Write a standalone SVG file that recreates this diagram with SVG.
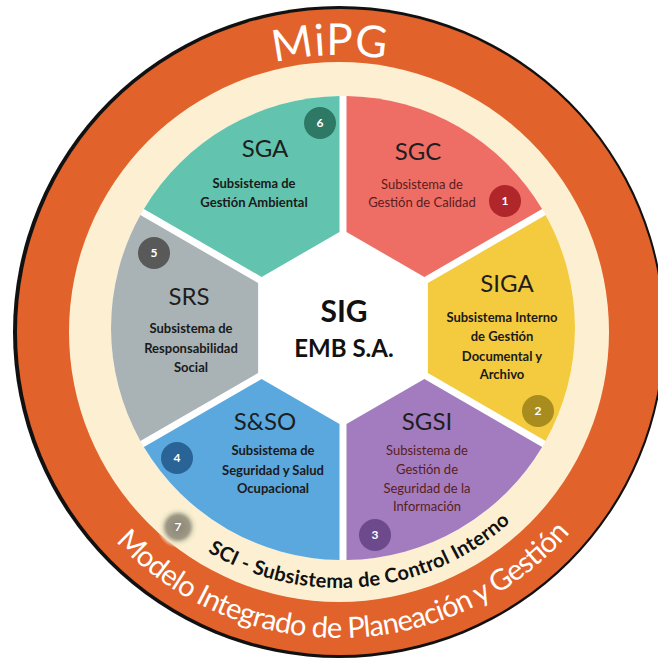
<svg xmlns="http://www.w3.org/2000/svg" xmlns:xlink="http://www.w3.org/1999/xlink" width="658" height="660" viewBox="0 0 658 660">
<style>
text{font-family:Lato,"Open Sans","Liberation Sans",sans-serif}
.title{font-size:24px;fill:#1e1e1e;text-anchor:middle}
.sub{font-size:13px;font-weight:bold;fill:#1a1a1a;text-anchor:middle}
.subn{font-size:13px;fill:#5a1c1c;text-anchor:middle}
.badge{font-size:12px;font-weight:bold;fill:#ffffff;text-anchor:middle}
</style>
<defs>
<path id="wedge" d="M 84.87 44.96 L 202.64 112.96 A 232 232 0 0 0 202.64 -112.96 L 84.87 -44.96 Z"/>
<path id="topArc" d="M 62 332 A 277 277 0 0 1 616 332"/>
<path id="botArc" d="M 33 332 A 306 306 0 0 0 645 332"/>
<path id="sciArc" d="M 83 332 A 256 256 0 0 0 595 332"/>
<radialGradient id="g7">
<stop offset="0" stop-color="#8a8576"/>
<stop offset="0.55" stop-color="#9d9785"/>
<stop offset="0.75" stop-color="#e6dfc2"/>
<stop offset="1" stop-color="#fdf0d2" stop-opacity="0"/>
</radialGradient>
</defs>
<rect width="658" height="660" fill="#ffffff"/>
<g id="rings">
<circle cx="339" cy="332" r="326" fill="#111111"/>
<circle cx="340" cy="332" r="323" fill="#E2622B"/>
<circle cx="339" cy="332" r="270" fill="#FDF0D2"/>
<circle cx="343" cy="328" r="232" fill="#ffffff"/>
</g>
<g id="mipg">
<text font-size="44" fill="#ffffff" text-anchor="middle" letter-spacing="1"><textPath xlink:href="#topArc" href="#topArc" startOffset="49%">MiPG</textPath></text>
</g>
<g id="modelo">
<text font-size="29" fill="#ffffff" text-anchor="middle" textLength="512" lengthAdjust="spacing"><textPath xlink:href="#botArc" href="#botArc" startOffset="50.6%">Modelo Integrado de Planeación y Gestión</textPath></text>
</g>
<g id="sci">
<text font-size="20" font-weight="bold" fill="#111111" text-anchor="middle" textLength="326" lengthAdjust="spacing"><textPath xlink:href="#sciArc" href="#sciArc" startOffset="53.1%">SCI - Subsistema de Control Interno</textPath></text>
</g>
<g id="badge7">
<circle cx="178" cy="527" r="21" fill="url(#g7)"/>
<text class="badge" x="178" y="531">7</text>
</g>
<g id="sgc">
<use href="#wedge" xlink:href="#wedge" transform="translate(343,328) rotate(-60)" fill="#EE6E66"/>
<text class="title" x="418" y="160" fill="#2a1010">SGC</text>
<text class="subn" x="422" y="189">Subsistema de</text>
<text class="subn" x="422" y="207">Gestión de Calidad</text>
<circle cx="505" cy="201" r="16" fill="#B0262A"/>
<text class="badge" x="505" y="205">1</text>
</g>
<g id="siga">
<use href="#wedge" xlink:href="#wedge" transform="translate(343,328)" fill="#F4CB3F"/>
<text class="title" x="507" y="292">SIGA</text>
<text class="sub" x="502" y="322">Subsistema Interno</text>
<text class="sub" x="502" y="341">de Gestión</text>
<text class="sub" x="502" y="361">Documental y</text>
<text class="sub" x="502" y="379">Archivo</text>
<circle cx="538" cy="411" r="16" fill="#A88D1E"/>
<text class="badge" x="538" y="415">2</text>
</g>
<g id="sgsi">
<use href="#wedge" xlink:href="#wedge" transform="translate(343,328) rotate(60)" fill="#A27CBE"/>
<text class="title" x="427" y="430">SGSI</text>
<text class="subn" x="427" y="455" fill="#4a2a5c">Subsistema de</text>
<text class="subn" x="427" y="474" fill="#4a2a5c">Gestión de</text>
<text class="subn" x="427" y="493" fill="#4a2a5c">Seguridad de la</text>
<text class="subn" x="427" y="511" fill="#4a2a5c">Información</text>
<circle cx="375" cy="535" r="16" fill="#6C4A8C"/>
<text class="badge" x="375" y="539">3</text>
</g>
<g id="sso">
<use href="#wedge" xlink:href="#wedge" transform="translate(343,328) rotate(120)" fill="#5AA8DE"/>
<text class="title" x="265" y="430">S&amp;SO</text>
<text class="sub" x="273" y="455">Subsistema de</text>
<text class="sub" x="273" y="475">Seguridad y Salud</text>
<text class="sub" x="273" y="493">Ocupacional</text>
<circle cx="177" cy="458" r="16" fill="#2A6496"/>
<text class="badge" x="177" y="462">4</text>
</g>
<g id="srs">
<use href="#wedge" xlink:href="#wedge" transform="translate(343,328) rotate(180)" fill="#A9B3B5"/>
<text class="title" x="189" y="305">SRS</text>
<text class="sub" x="191" y="333">Subsistema de</text>
<text class="sub" x="191" y="353">Responsabilidad</text>
<text class="sub" x="191" y="372">Social</text>
<circle cx="154" cy="253" r="16" fill="#595959"/>
<text class="badge" x="154" y="257">5</text>
</g>
<g id="sga">
<use href="#wedge" xlink:href="#wedge" transform="translate(343,328) rotate(-120)" fill="#62C4AF"/>
<text class="title" x="265" y="157">SGA</text>
<text class="sub" x="254" y="188">Subsistema de</text>
<text class="sub" x="254" y="207">Gestión Ambiental</text>
<circle cx="320" cy="123" r="16" fill="#2E7866"/>
<text class="badge" x="320" y="127">6</text>
</g>
<g id="sig">
<text x="344" y="322" font-size="30" font-weight="bold" fill="#111111" text-anchor="middle">SIG</text>
<text x="344" y="357" font-size="24" font-weight="bold" fill="#111111" text-anchor="middle">EMB S.A.</text>
</g>
<g id="connectors"></g>
</svg>
